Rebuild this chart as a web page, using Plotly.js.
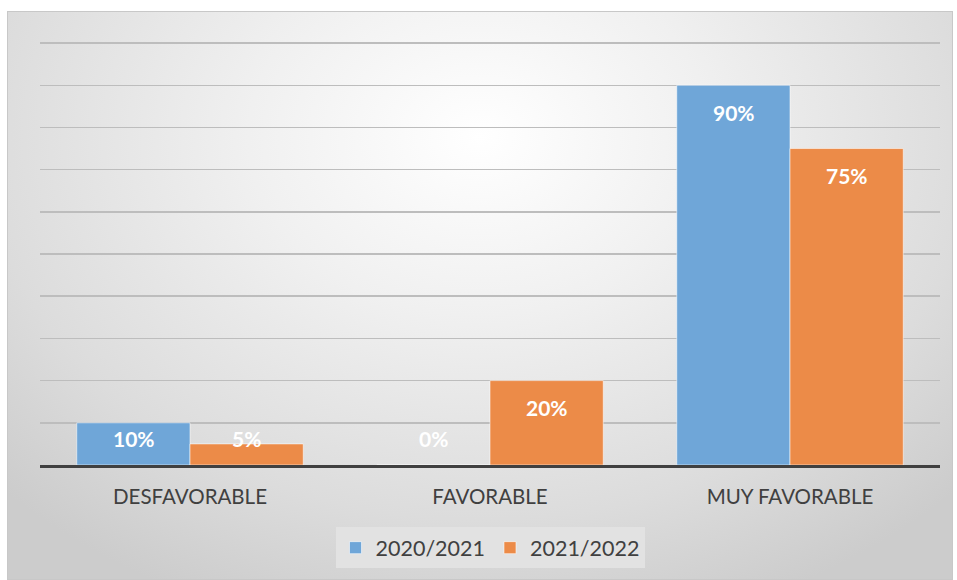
<!DOCTYPE html>
<html><head><meta charset="utf-8">
<script src="https://cdn.plot.ly/plotly-3.0.1.min.js"></script>
<style>
html,body{margin:0;padding:0;background:#fff;}
#bg{position:absolute;left:7px;top:11px;width:944px;height:567px;border:1px solid #c8c8c8;
background:radial-gradient(ellipse 70% 90% at 50% 22%, #ffffff 0%, #f0f0f0 35%, #dcdcdc 75%, #cccccc 100%);}
#chart{position:absolute;left:0;top:0;width:957px;height:580px;}
</style></head>
<body>
<div id="bg"></div>
<div id="chart"></div>
<script>
const categories = ["DESFAVORABLE", "FAVORABLE", "MUY FAVORABLE"];
const seriesNames = ["2020/2021", "2021/2022"];
const values2021 = [10, 0, 90];
const values2022 = [5, 20, 75];
const colors = ["#6fa6d8", "#ec8b48"];

const traces = [values2021, values2022].map((vals, i) => ({
  type: "bar",
  name: seriesNames[i],
  x: categories,
  y: vals,
  marker: {color: colors[i], line: {color: "rgba(255,255,255,0.55)", width: 1}},
  hoverinfo: "none"
}));

// Data labels: inside end, kept above the baseline for short bars
const pxPerUnit = 4.22;
const offsetUnits = 27 / pxPerUnit;
const annotations = [];
[values2021, values2022].forEach((vals, i) => {
  vals.forEach((v, j) => {
    annotations.push({
      xref: "x", yref: "y",
      x: categories[j],
      y: Math.max(v - offsetUnits, offsetUnits),
      xshift: (i === 0 ? -1 : 1) * 56.5,
      yanchor: "middle",
      text: v + "%",
      showarrow: false,
      font: {family: "Lato, 'Open Sans', sans-serif", size: 21, color: "#ffffff", weight: "bold"}
    });
  });
});

const layout = {
  width: 957, height: 580,
  paper_bgcolor: "rgba(0,0,0,0)",
  plot_bgcolor: "rgba(0,0,0,0)",
  margin: {l: 40, r: 17, t: 42, b: 115},
  barmode: "group",
  bargap: 0.245,
  bargroupgap: 0,
  font: {family: "Lato, 'Open Sans', sans-serif", color: "#404040"},
  xaxis: {
    showline: true, linecolor: "#404040", linewidth: 3,
    ticks: "", tickfont: {size: 20.5, color: "#404040"},
    ticklabelstandoff: 11,
    showgrid: false
  },
  yaxis: {
    range: [0, 100.25], tickvals: [0,10,20,30,40,50,60,70,80,90,100], showticklabels: false,
    showgrid: true, gridcolor: "#bdbdbd", gridwidth: 1.5,
    zeroline: false, fixedrange: true
  },
  showlegend: true,
  legend: {
    orientation: "h", x: 0.5, xanchor: "center", y: -0.147, yanchor: "top",
    bgcolor: "#e2e2e2", font: {size: 21.5, color: "#404040"},
    itemwidth: 30, traceorder: "normal"
  },
  annotations: annotations
};

Plotly.newPlot("chart", traces, layout, {displayModeBar: false, staticPlot: true});
</script>
</body></html>
